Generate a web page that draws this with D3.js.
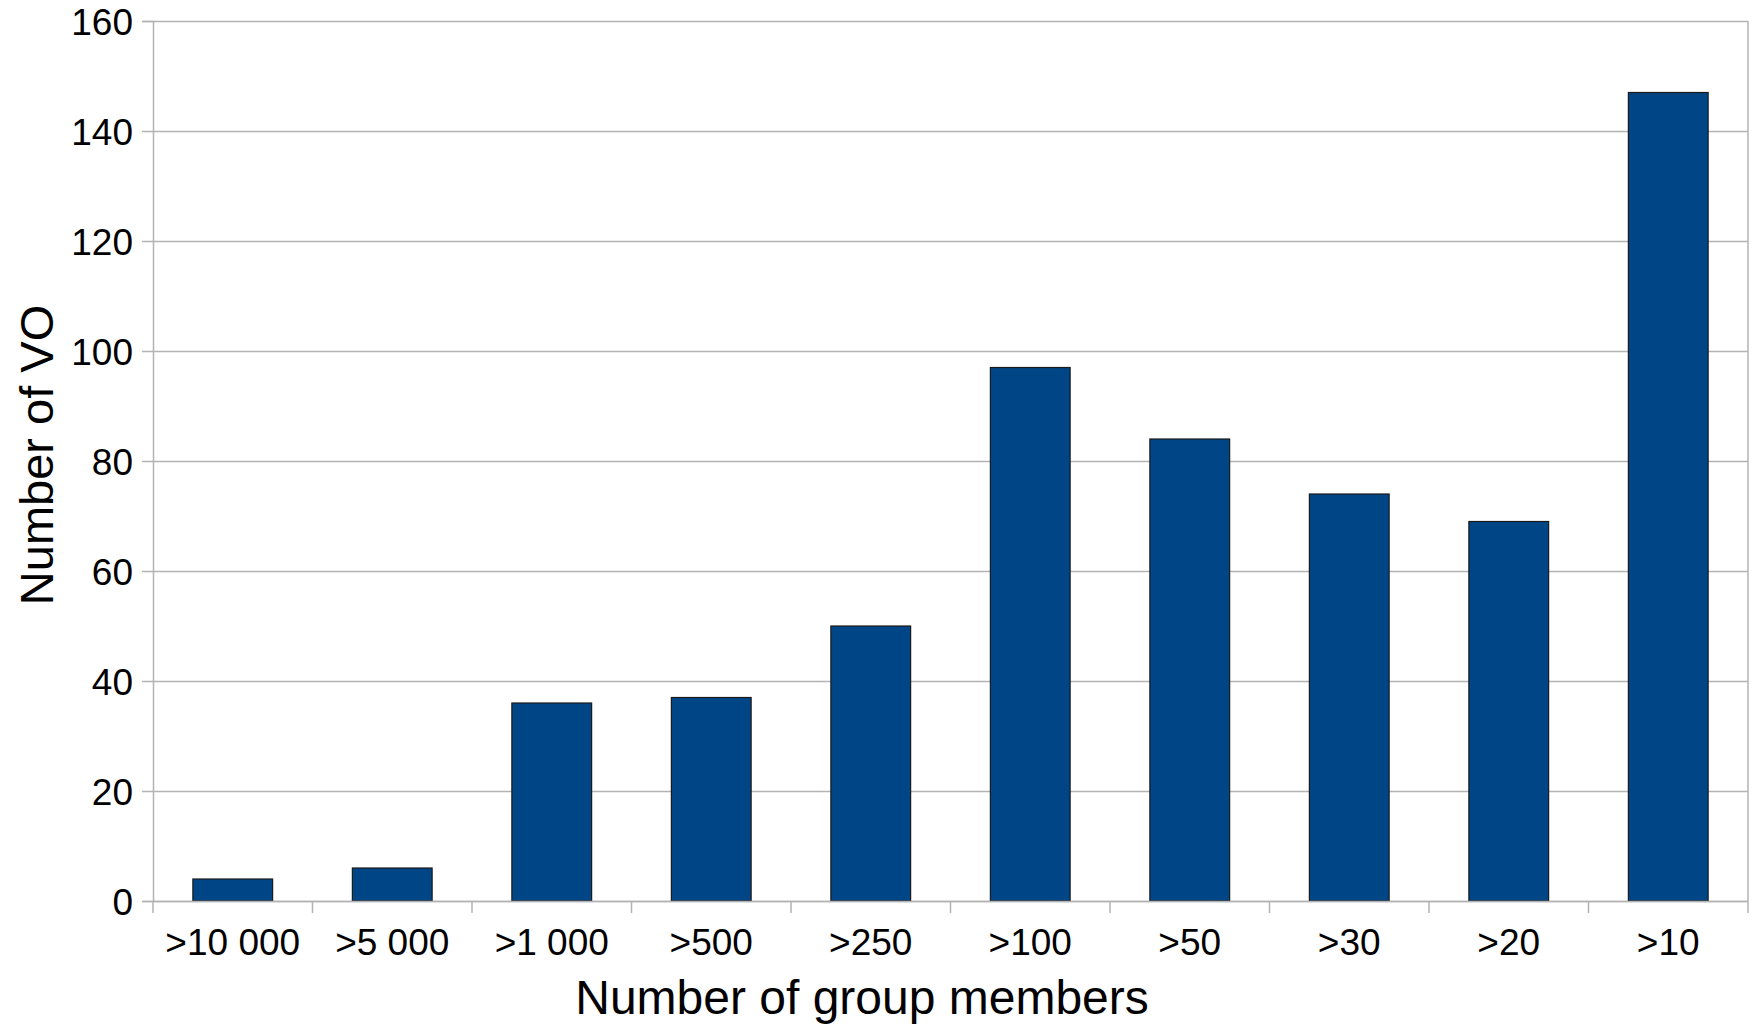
<!DOCTYPE html>
<html>
<head>
<meta charset="utf-8">
<script src="https://cdn.jsdelivr.net/npm/d3@7"></script>
<style>
  body { margin: 0; background: #fff; }
  text { font-family: "Liberation Sans", Arial, sans-serif; fill: #000; }
</style>
</head>
<body>
<div id="chart"></div>
<script>
// data
const categories = [">10 000", ">5 000", ">1 000", ">500", ">250", ">100", ">50", ">30", ">20", ">10"];
const voCounts = [4, 6, 36, 37, 50, 97, 84, 74, 69, 147];
const yTicks = [0, 20, 40, 60, 80, 100, 120, 140, 160];

const W = 1752, H = 1025;
const margin = { top: 21, right: 4, bottom: 124, left: 153 };
const width = W - margin.left - margin.right;
const height = H - margin.top - margin.bottom;

const svg = d3.select("#chart").append("svg")
    .attr("width", W)
    .attr("height", H);

const g = svg.append("g")
    .attr("transform", `translate(${margin.left},${margin.top})`);

const x = d3.scaleBand()
    .domain(categories)
    .range([0, width])
    .paddingInner(0.5)
    .paddingOuter(0.25);

const y = d3.scaleLinear()
    .domain([0, 160])
    .range([height, 0]);

// grid lines
g.selectAll(".grid")
    .data(yTicks)
    .enter()
    .append("line")
    .attr("class", "grid")
    .attr("x1", 0)
    .attr("x2", width)
    .attr("y1", d => y(d) + 0.5)
    .attr("y2", d => y(d) + 0.5)
    .style("stroke", "#b3b3b3")
    .style("stroke-width", 1.5);

// right border
g.append("line")
    .attr("x1", width).attr("x2", width)
    .attr("y1", 0).attr("y2", height)
    .style("stroke", "#b3b3b3")
    .style("stroke-width", 1.5);

// bars
g.selectAll(".bar")
    .data(voCounts)
    .enter()
    .append("rect")
    .attr("class", "bar")
    .attr("x", (d, i) => x(categories[i]))
    .attr("y", d => y(d))
    .attr("width", x.bandwidth())
    .attr("height", d => height - y(d))
    .style("fill", "#004586")
    .style("stroke", "#1a1a1a")
    .style("stroke-width", 1.2);

// y axis
const yAxis = g.append("g")
    .call(d3.axisLeft(y).tickValues(yTicks).tickSize(11).tickPadding(9).tickFormat(d3.format("d")));
yAxis.select(".domain").style("stroke", "#b3b3b3").style("stroke-width", 1.5);
yAxis.selectAll(".tick line").style("stroke", "#b3b3b3").style("stroke-width", 1.5);
yAxis.selectAll("text")
    .style("font-size", "37px")
    .attr("dy", "0.36em");

// x axis: ticks sit between categories
const xAxis = g.append("g")
    .attr("transform", `translate(0,${height})`);
xAxis.append("line")
    .attr("x1", 0).attr("x2", width)
    .attr("y1", 0.5).attr("y2", 0.5)
    .style("stroke", "#b3b3b3")
    .style("stroke-width", 1.5);
const bounds = d3.range(categories.length + 1).map(i => i * x.step());
xAxis.selectAll(".xtick")
    .data(bounds)
    .enter()
    .append("line")
    .attr("class", "xtick")
    .attr("x1", d => d).attr("x2", d => d)
    .attr("y1", 0).attr("y2", 12)
    .style("stroke", "#b3b3b3")
    .style("stroke-width", 1.5);
xAxis.selectAll(".xlabel")
    .data(categories)
    .enter()
    .append("text")
    .attr("class", "xlabel")
    .attr("x", d => x(d) + x.bandwidth() / 2)
    .attr("y", 54)
    .attr("text-anchor", "middle")
    .style("font-size", "37px")
    .text(d => d);

// axis titles
svg.append("text")
    .attr("x", 862)
    .attr("y", 1014)
    .attr("text-anchor", "middle")
    .style("font-size", "48px")
    .text("Number of group members");

svg.append("text")
    .attr("transform", "translate(53,455) rotate(-90)")
    .attr("text-anchor", "middle")
    .style("font-size", "47px")
    .text("Number of VO");
</script>
</body>
</html>
